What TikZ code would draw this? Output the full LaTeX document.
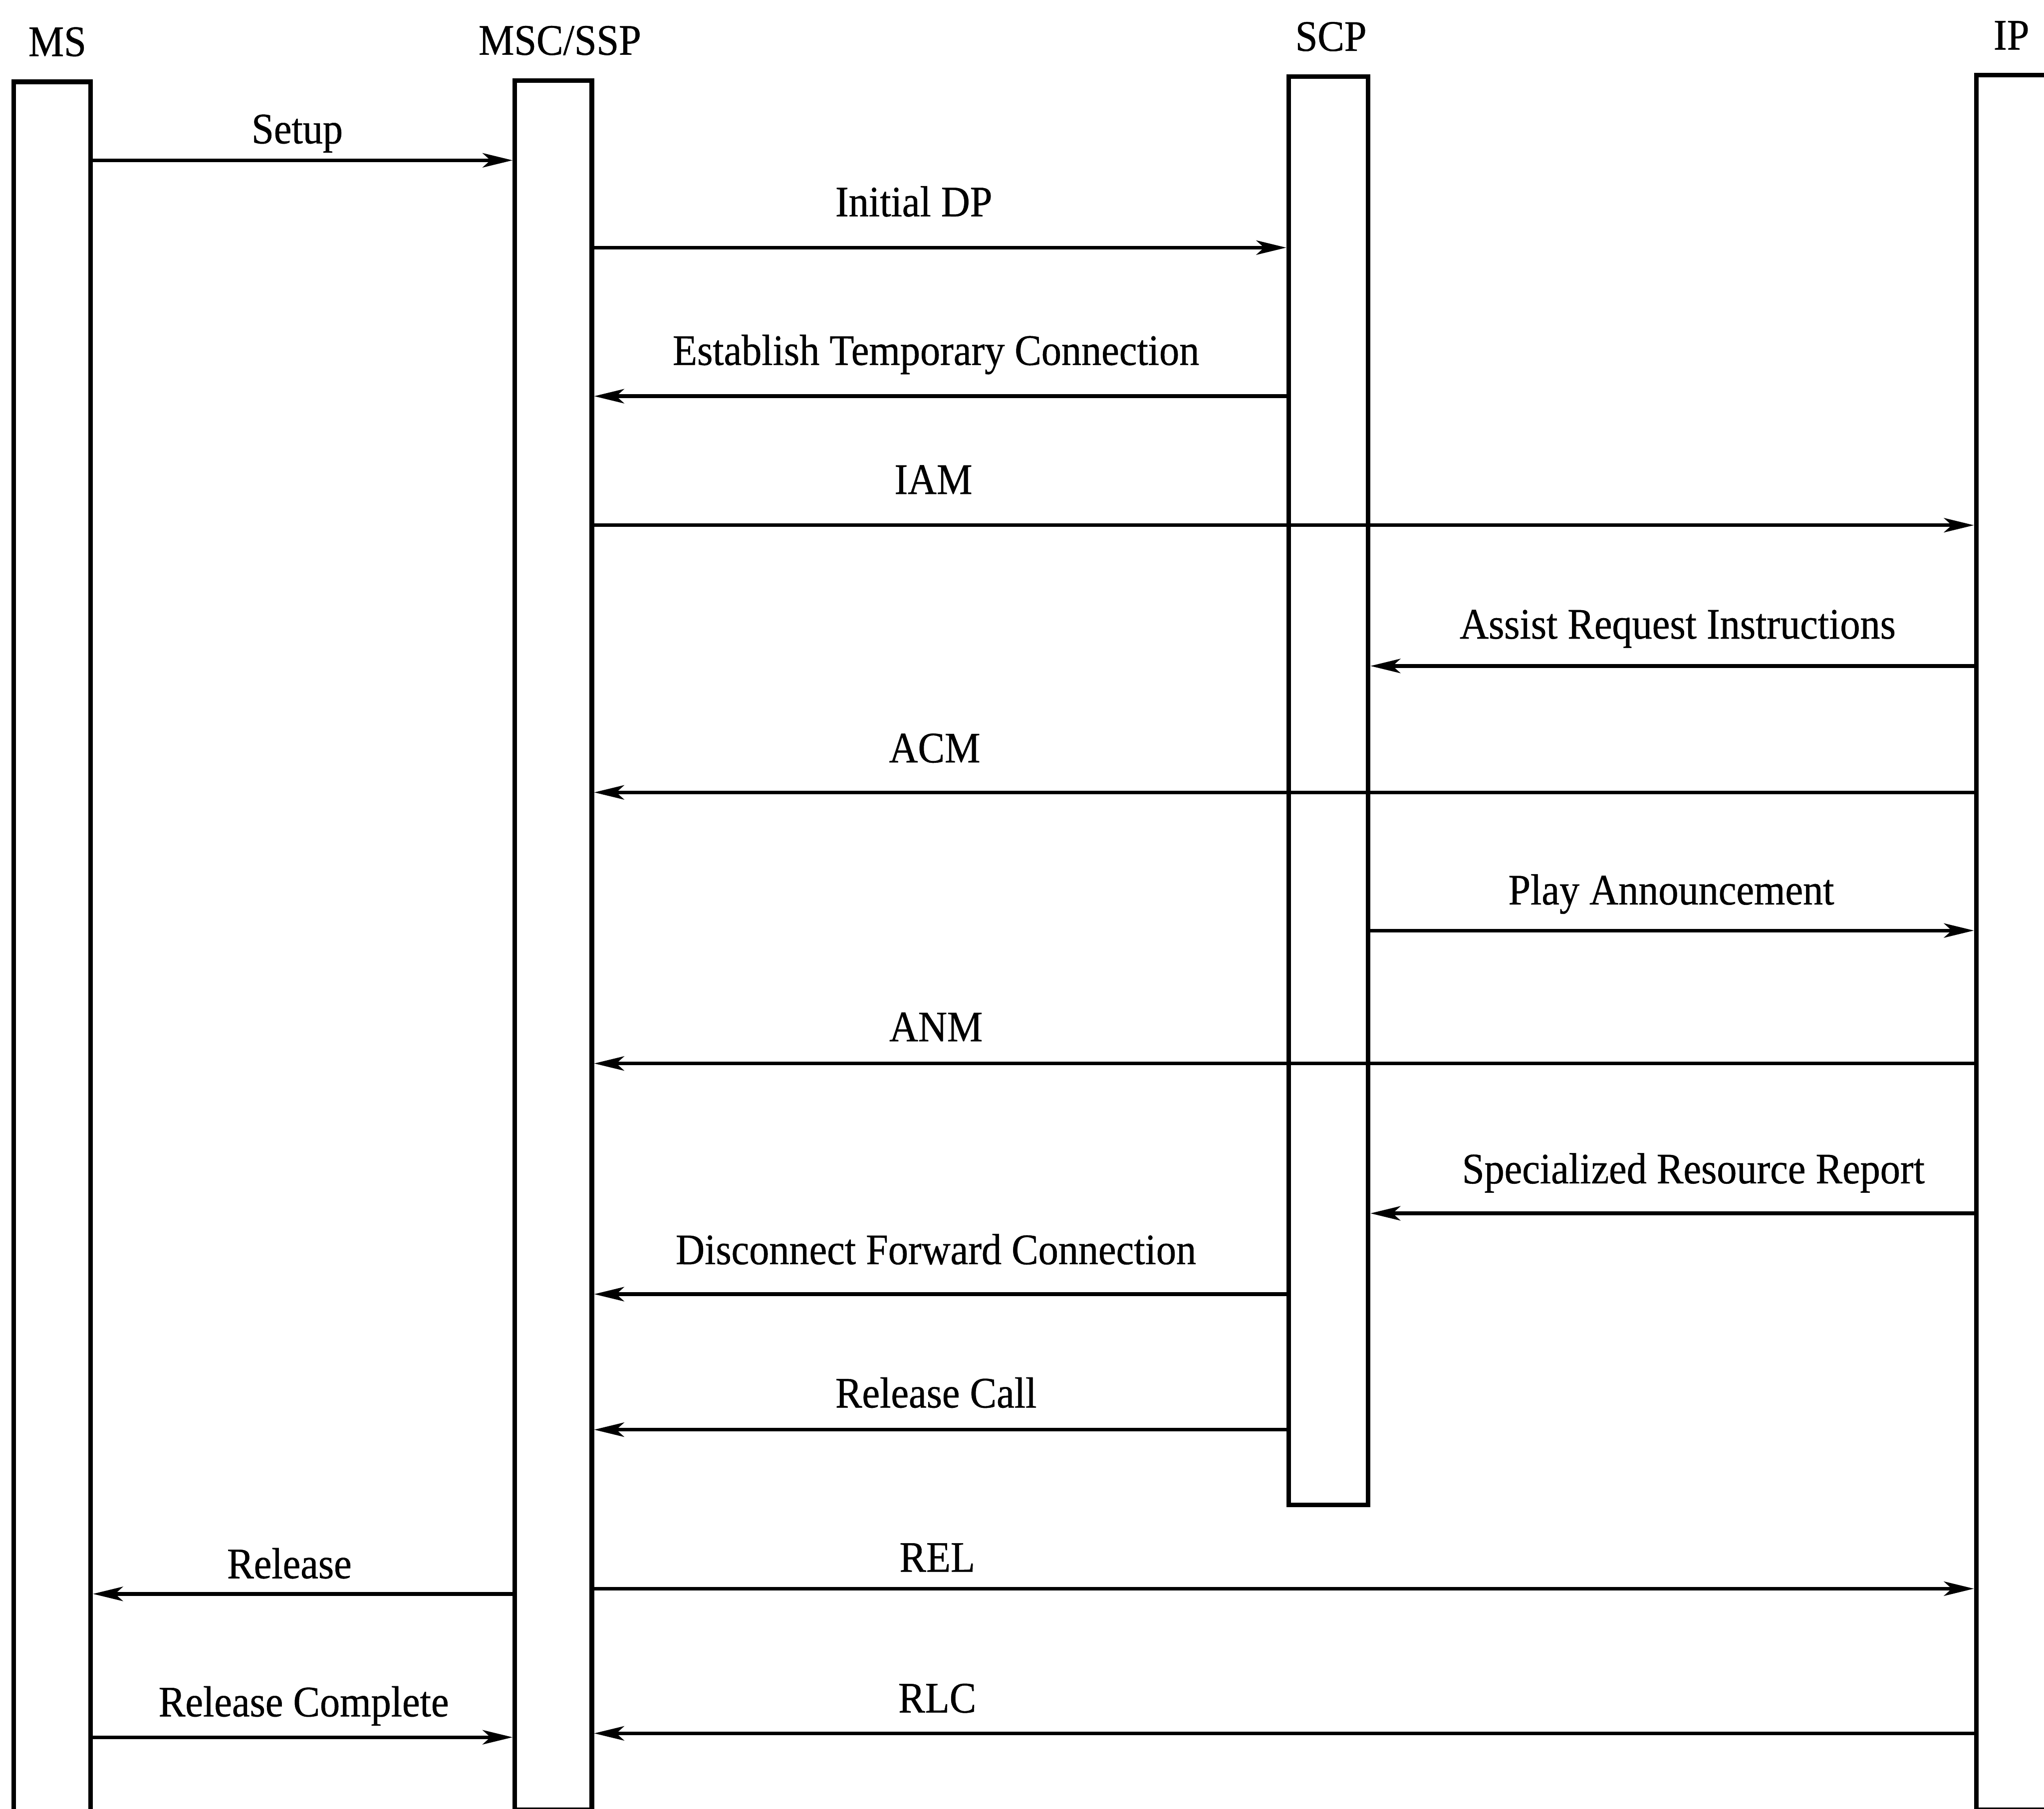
\documentclass[tikz,border=0pt]{standalone}
\usepackage{fontspec}
\setmainfont{Liberation Serif}[FakeStretch=0.92,FakeBold=0.6]
\usetikzlibrary{arrows.meta,positioning,calc}
\tikzset{
 lifeline/.style={draw=black,line width=1pt,minimum width=5.9mm,inner sep=0pt,anchor=north},
 title/.style={anchor=base,inner sep=0pt},
 lbl/.style={anchor=base,inner sep=0pt},
 msg/.style={-{Stealth[length=2.3mm,width=1.1mm,inset=0.6mm]},line width=.8pt}
}

\begin{document}
\begin{tikzpicture}[font=\fontsize{9.5}{11}\selectfont]
  \useasboundingbox (0,0) rectangle (15.68,-13.88);

  % lifelines
  \node[lifeline,minimum height=133.4mm] (ms)  at (0.40,-0.61) {};
  \node[lifeline,minimum height=132.7mm] (msc) at (4.245,-0.60) {};
  \node[lifeline,minimum height=109.6mm,minimum width=6.1mm] (scp) at (10.19,-0.57) {};
  \node[lifeline,minimum height=133.1mm,minimum width=6.0mm] (ip)  at (15.46,-0.56) {};

  \foreach \n/\t/\dx in {ms/MS/.4mm,msc/{MSC/SSP}/.5mm,scp/SCP/.2mm,ip/IP/-.3mm}
    \node[title] at ([xshift=\dx,yshift=1.8mm]\n.north) {\t};

  % messages: from/to/arrow y/label x/label y/text
  \foreach \a/\b/\y/\lx/\ly/\t in {
      ms.east/msc.west/1.23/2.28/1.10/Setup,
      msc.east/scp.west/1.90/7.01/1.66/Initial DP,
      scp.west/msc.east/3.04/7.18/2.80/Establish Temporary Connection,
      msc.east/ip.west/4.03/7.16/3.79/IAM,
      ip.west/scp.east/5.11/12.87/4.90/Assist Request Instructions,
      ip.west/msc.east/6.08/7.17/5.85/ACM,
      scp.east/ip.west/7.14/12.82/6.94/Play Announcement,
      ip.west/msc.east/8.16/7.18/7.99/ANM,
      ip.west/scp.east/9.31/12.99/9.08/Specialized Resource Report,
      scp.west/msc.east/9.93/7.18/9.70/Disconnect Forward Connection,
      scp.west/msc.east/10.97/7.18/10.80/Release Call,
      msc.west/ms.east/12.23/2.22/12.11/Release,
      msc.east/ip.west/12.19/7.19/12.06/REL,
      ms.east/msc.west/13.33/2.33/13.17/Release Complete,
      ip.west/msc.east/13.30/7.19/13.14/RLC}
  {
    \draw[msg] (\a |- 0,-\y) -- (\b |- 0,-\y);
    \node[lbl] at (\lx,-\ly) {\t};
  }
\end{tikzpicture}
\end{document}
